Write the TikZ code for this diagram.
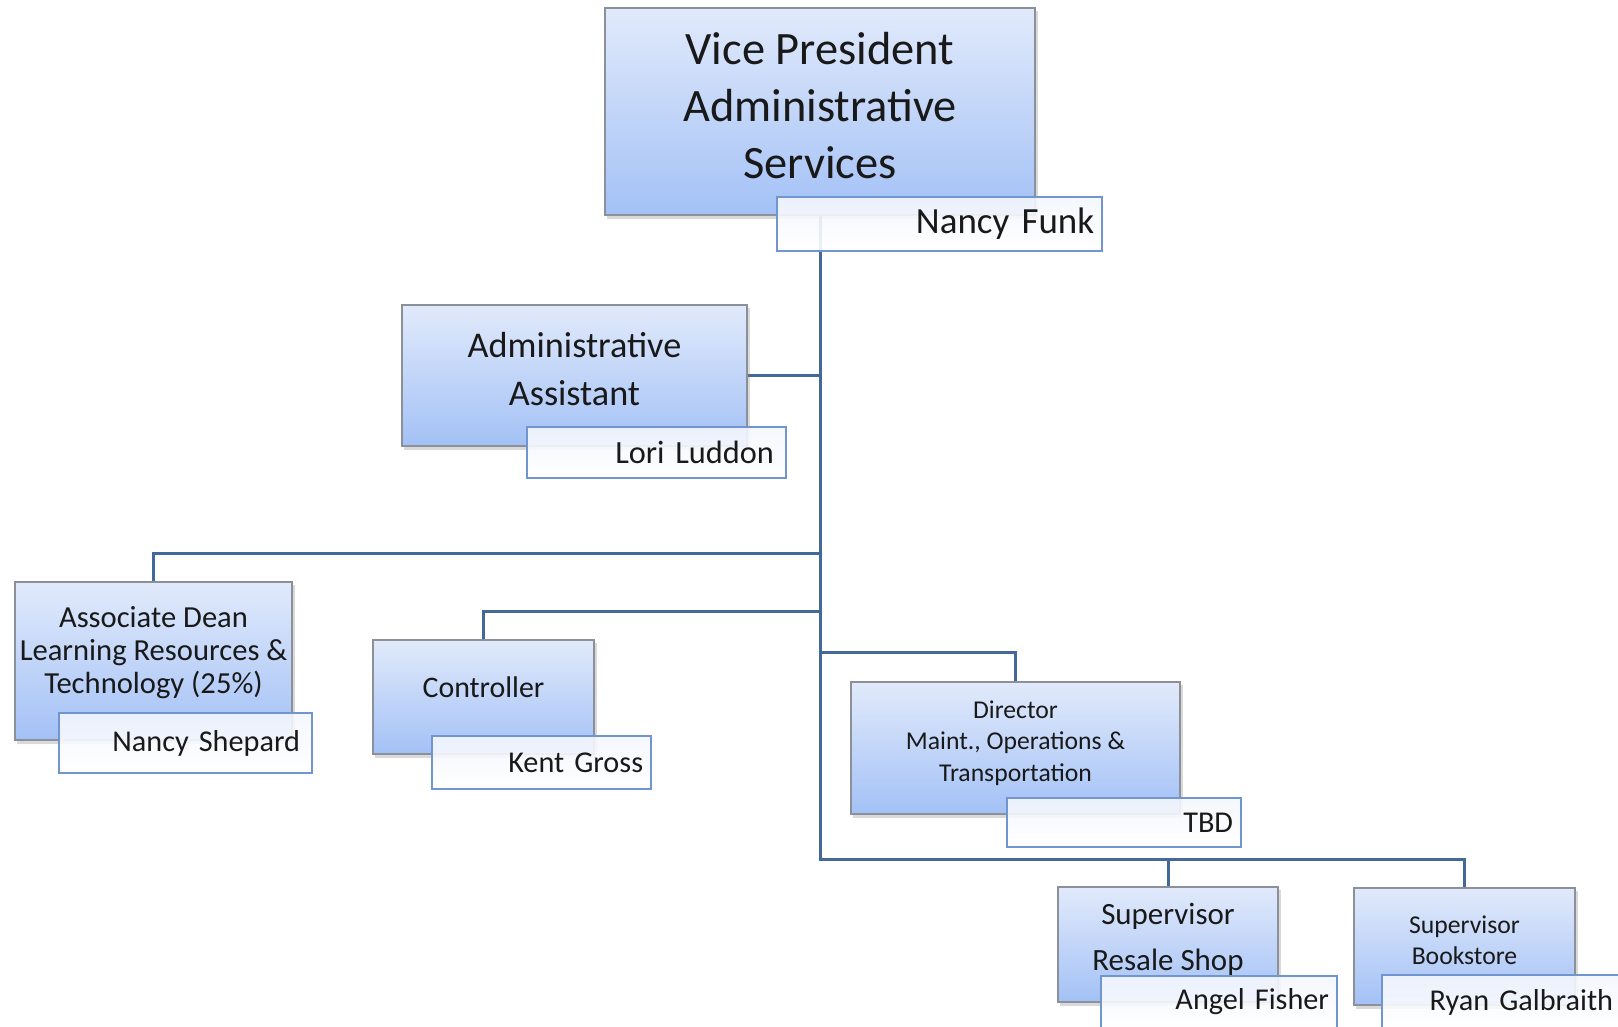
\documentclass[tikz,border=0pt]{standalone}
\usepackage{fontspec}
\setmainfont{Carlito}
\usetikzlibrary{shadows,backgrounds}
\definecolor{boxtop}{HTML}{E1EAFB}
\definecolor{boxbottom}{HTML}{A3C1F6}
\definecolor{boxline}{HTML}{8C9099}
\definecolor{nameline}{HTML}{7196CF}
\definecolor{nametop}{HTML}{F3F6FD}
\definecolor{linkblue}{HTML}{43699B}
\tikzset{ role/.style = { rectangle % position box
        , draw = boxline
        , line width = 0.5pt
        , top color = boxtop
        , bottom color = boxbottom
        , inner sep = 0pt
        , drop shadow = {shadow xshift=0.025cm, shadow yshift=-0.035cm, opacity=0.3}
        }
        , who/.style = { rectangle % holder name
        , draw = nameline
        , line width = 0.5pt
        , top color = nametop
        , bottom color = white
        , fill opacity = 0.9
        , text opacity = 1
        , inner sep = 0pt
        , align = right
        , font = \fontsize{8.6}{10.3}\selectfont
        }
        }

\begin{document}
\begin{tikzpicture}[x=0.01cm, y=-0.01cm, text=black!90,
        link/.style={draw=linkblue, line width=0.85pt},
        rolelabel/.style={align=center, inner sep=0pt}]
        \clip (0,0) rectangle (1618,1026);

        \node [role, minimum width=4.30cm, minimum height=2.07cm,
               label={[rolelabel, name=vpT, font=\fontsize{13.2}{16.2}\selectfont, yshift=0.06cm]center:{Vice President\\Administrative\\Services}}] (vp) at (820,111.5) {};
        \node [who, minimum width=3.25cm, minimum height=0.54cm, text width=3.09cm, font=\fontsize{10.5}{12.6}\selectfont] (vpN) at (939.5,224) {Nancy Funk};

        \node [role, minimum width=3.45cm, minimum height=1.41cm,
               label={[rolelabel, name=aaT, font=\fontsize{10.3}{13.4}\selectfont, yshift=0.065cm]center:{Administrative\\Assistant}}] (aa) at (574.5,375.5) {};
        \node [who, minimum width=2.59cm, minimum height=0.51cm, text width=2.35cm, font=\fontsize{9.2}{11}\selectfont] (aaN) at (656.5,452.5) {Lori Luddon};

        \node [role, minimum width=2.77cm, minimum height=1.58cm,
               label={[rolelabel, name=adT, font=\fontsize{8.7}{9.4}\selectfont, yshift=0.08cm]center:{Associate Dean\\Learning Resources \&\\Technology (25\%)}}] (ad) at (153.5,661) {};
        \node [who, minimum width=2.53cm, minimum height=0.60cm, text width=2.29cm] (adN) at (185.5,743) {Nancy Shepard};

        \node [role, minimum width=2.21cm, minimum height=1.14cm,
               label={[rolelabel, name=ctlT, font=\fontsize{8.5}{10.2}\selectfont, yshift=0.095cm]center:{Controller}}] (ctl) at (483.5,697) {};
        \node [who, minimum width=2.19cm, minimum height=0.53cm, text width=2.03cm] (ctlN) at (541.5,762.5) {Kent Gross};

        \node [role, minimum width=3.29cm, minimum height=1.32cm,
               label={[rolelabel, name=dirT, font=\fontsize{7.3}{9}\selectfont, yshift=0.05cm]center:{Director\\Maint., Operations \&\\Transportation}}] (dir) at (1015.5,748) {};
        \node [who, minimum width=2.34cm, minimum height=0.49cm, text width=2.18cm] (dirN) at (1124,822.5) {TBD};

        \node [role, minimum width=2.20cm, minimum height=1.15cm,
               label={[rolelabel, name=rsT, font=\fontsize{8.8}{13.1}\selectfont, yshift=0.05cm]center:{Supervisor\\Resale Shop}}] (rs) at (1168,944.5) {};
        \node [who, minimum width=2.36cm, minimum height=0.52cm, text width=2.20cm] (rsN) at (1219,1002) {Angel Fisher};

        \node [role, minimum width=2.21cm, minimum height=1.17cm,
               label={[rolelabel, name=bkT, font=\fontsize{7.3}{8.8}\selectfont, yshift=0.065cm]center:{Supervisor\\Bookstore}}] (bk) at (1464.5,946.5) {};
        \node [who, minimum width=2.39cm, minimum height=0.54cm, text width=2.23cm] (bkN) at (1501.5,1002) {Ryan Galbraith};

        % reporting lines
        \begin{scope}[on background layer]
            \draw [link] (vp.south) |- (aa.east);
            \draw [link] (vp.south) |- ([yshift=0.28cm]ad.north) -- (ad.north);
            \draw [link] (vp.south) |- ([yshift=0.28cm]ctl.north) -- (ctl.north);
            \draw [link] (vp.south) |- ([yshift=0.29cm]dir.north) -- (dir.north);
            \draw [link] (vp.south) |- ([yshift=0.27cm]rs.north) -- (rs.north);
            \draw [link] ([yshift=0.27cm]rs.north) -| (bk.north);
        \end{scope}
\end{tikzpicture}
\end{document}
